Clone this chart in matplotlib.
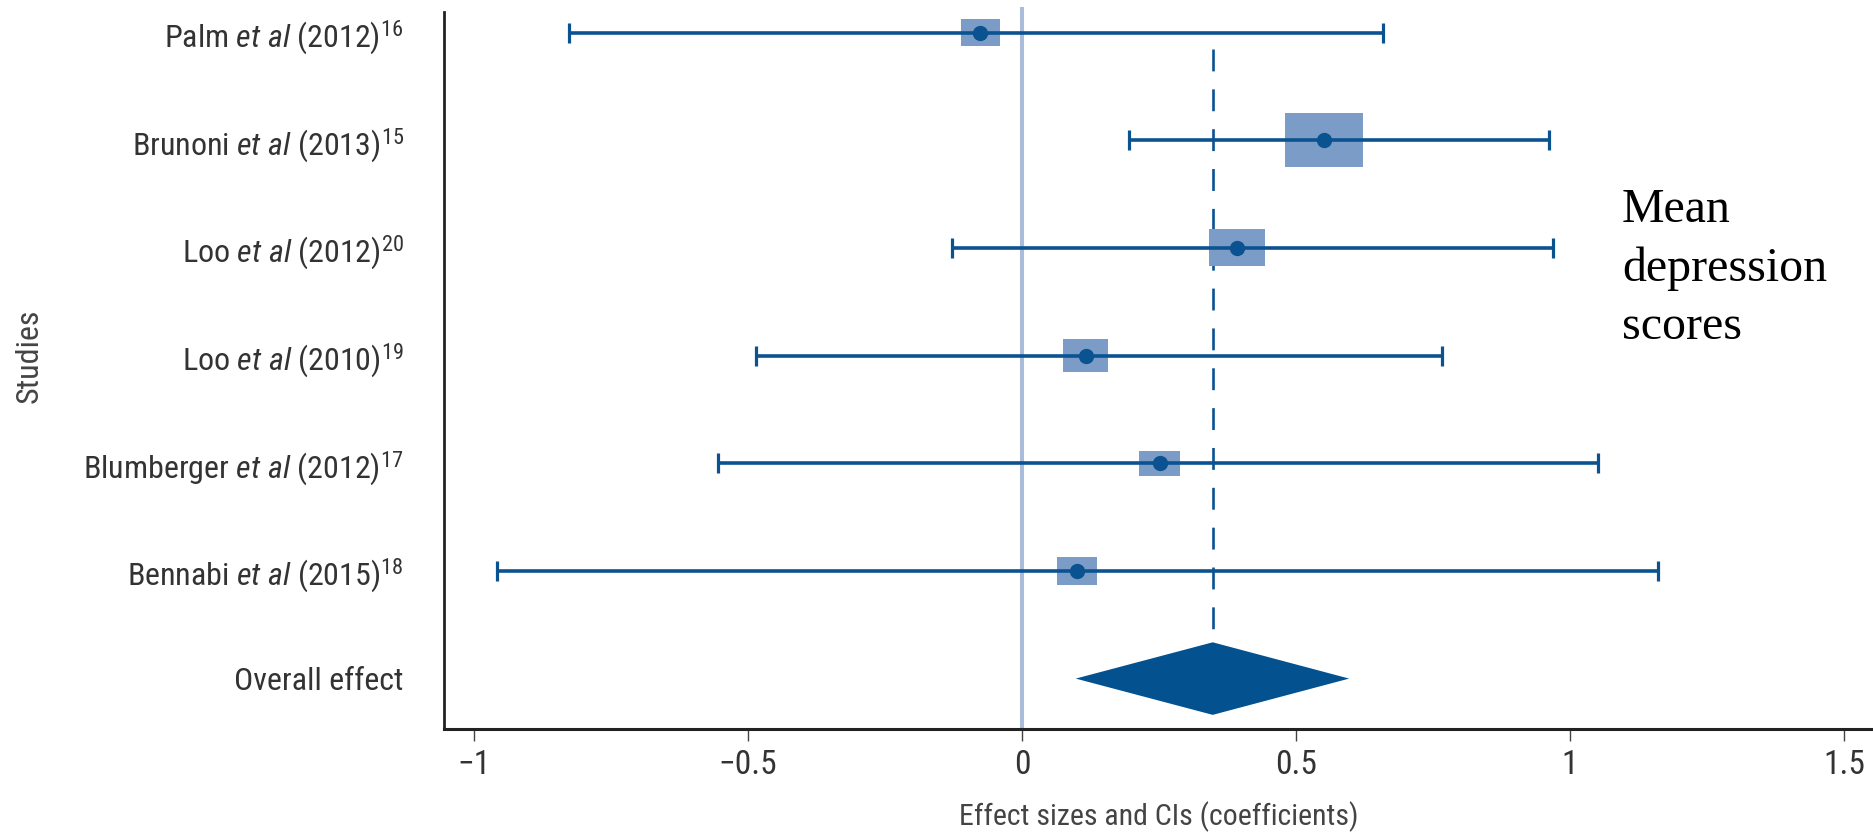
import matplotlib
matplotlib.use("Agg")
import matplotlib.pyplot as plt
from matplotlib.patches import Rectangle, Polygon
from matplotlib import font_manager

# ---- data -------------------------------------------------------------
studies = [
    r"Palm $\mathit{et\ al}$ (2012)$^{16}$",
    r"Brunoni $\mathit{et\ al}$ (2013)$^{15}$",
    r"Loo $\mathit{et\ al}$ (2012)$^{20}$",
    r"Loo $\mathit{et\ al}$ (2010)$^{19}$",
    r"Blumberger $\mathit{et\ al}$ (2012)$^{17}$",
    r"Bennabi $\mathit{et\ al}$ (2015)$^{18}$",
]
overall_label = "Overall effect"

effects = [-0.076, 0.551, 0.392, 0.116, 0.251, 0.100]
ci_low = [-0.827, 0.195, -0.128, -0.485, -0.555, -0.959]
ci_high = [0.659, 0.962, 0.969, 0.766, 1.051, 1.161]

# study weight boxes (width in effect units, height in row units)
box_w = [0.071, 0.141, 0.102, 0.082, 0.076, 0.074]
box_h = [0.25, 0.50, 0.343, 0.303, 0.235, 0.253]

overall_effect = 0.348
overall_low = 0.098
overall_high = 0.597

xticks = [-1, -0.5, 0, 0.5, 1, 1.5]
xticklabels = ["\u22121", "\u22120.5", "0", "0.5", "1", "1.5"]

# ---- fonts: prefer a narrow sans face when one is installed -----------
entries = font_manager.fontManager.ttflist
names = {f.name for f in entries}
sans = None
stretch = "normal"
for cand in ("Liberation Sans Narrow", "Roboto Condensed", "Open Sans Condensed",
             "DejaVu Sans Condensed", "Noto Sans Condensed"):
    if cand in names:
        sans = cand
        break
if sans is None:
    for f in entries:
        if f.stretch in ("condensed", "semi-condensed") and "Mono" not in f.name \
                and "Serif" not in f.name:
            sans = f.name
            stretch = "condensed"
            break
if sans is None:
    sans = "Liberation Sans"

plt.rcParams["font.family"] = [sans, "DejaVu Sans"]
plt.rcParams["font.stretch"] = stretch
plt.rcParams["mathtext.fontset"] = "custom"
suffix = ":stretch=condensed" if stretch == "condensed" else ""
plt.rcParams["mathtext.rm"] = sans + suffix
plt.rcParams["mathtext.it"] = sans + ":italic" + suffix
plt.rcParams["mathtext.bf"] = sans + ":bold" + suffix

DARK = "#0b5291"
BOX = "#7b9cc6"
ZERO = "#a9bcda"
TEXT = "#333333"

fig = plt.figure(figsize=(18.73, 8.35), dpi=100)
ax = fig.add_axes([0.2371, 0.1275, 0.7629, 0.8641])

n = len(studies)
rows = list(range(n, 0, -1))   # top study first; overall effect at 0

ax.axvline(0, color=ZERO, lw=2.9, zorder=1)

# dashed line at the pooled estimate, drawn top-down so a dash starts at the top
ax.plot([overall_effect, overall_effect], [n - 0.15, 0.42], color=DARK,
        lw=1.9, dashes=(8.3, 6.8), zorder=2)

for y, e, lo, hi, w, h in zip(rows, effects, ci_low, ci_high, box_w, box_h):
    ax.add_patch(Rectangle((e - w / 2, y - h / 2), w, h, facecolor=BOX,
                           edgecolor="none", zorder=3))
    ax.errorbar([e], [y], xerr=[[e - lo], [hi - e]], fmt="o", color=DARK,
                ms=10, elinewidth=2.6, capsize=7.2, capthick=2.3, zorder=4)

diamond_h = 0.337
ax.add_patch(Polygon([(overall_low, 0), (overall_effect, diamond_h),
                      (overall_high, 0), (overall_effect, -diamond_h)],
                     closed=True, facecolor="#03528f", edgecolor="none",
                     zorder=4))

ax.set_xlim(-1.0547, 1.553)
ax.set_ylim(-0.464, n + 0.238)

ax.set_yticks(rows + [0])
ax.set_yticklabels(studies + [overall_label], fontsize=23, color=TEXT)
ax.tick_params(axis="y", length=0, pad=29)

ax.set_xticks(xticks)
ax.set_xticklabels(xticklabels, fontsize=24, color=TEXT)
ax.tick_params(axis="x", length=8.6, width=1.0, color="#444444", pad=6)

ax.set_xlabel("Effect sizes and CIs (coefficients)", fontsize=21.5,
              color="#444444", labelpad=14.5)
ax.set_ylabel("Studies", fontsize=23, color="#444444")
ax.yaxis.set_label_coords(-0.2806, 0.516)

for side in ("top", "right"):
    ax.spines[side].set_visible(False)
ax.spines["left"].set_linewidth(2.0)
ax.spines["bottom"].set_linewidth(2.2)
ax.spines["left"].set_color("#222222")
ax.spines["bottom"].set_color("#222222")
ax.spines["left"].set_bounds(-0.464, n + 0.195)

fig.text(0.866, 0.775, "Mean\ndepression\nscores", fontsize=34.5,
         family=["Liberation Serif", "DejaVu Serif"], color="black",
         ha="left", va="top", linespacing=1.42)

fig.savefig("out.png", dpi=100)
